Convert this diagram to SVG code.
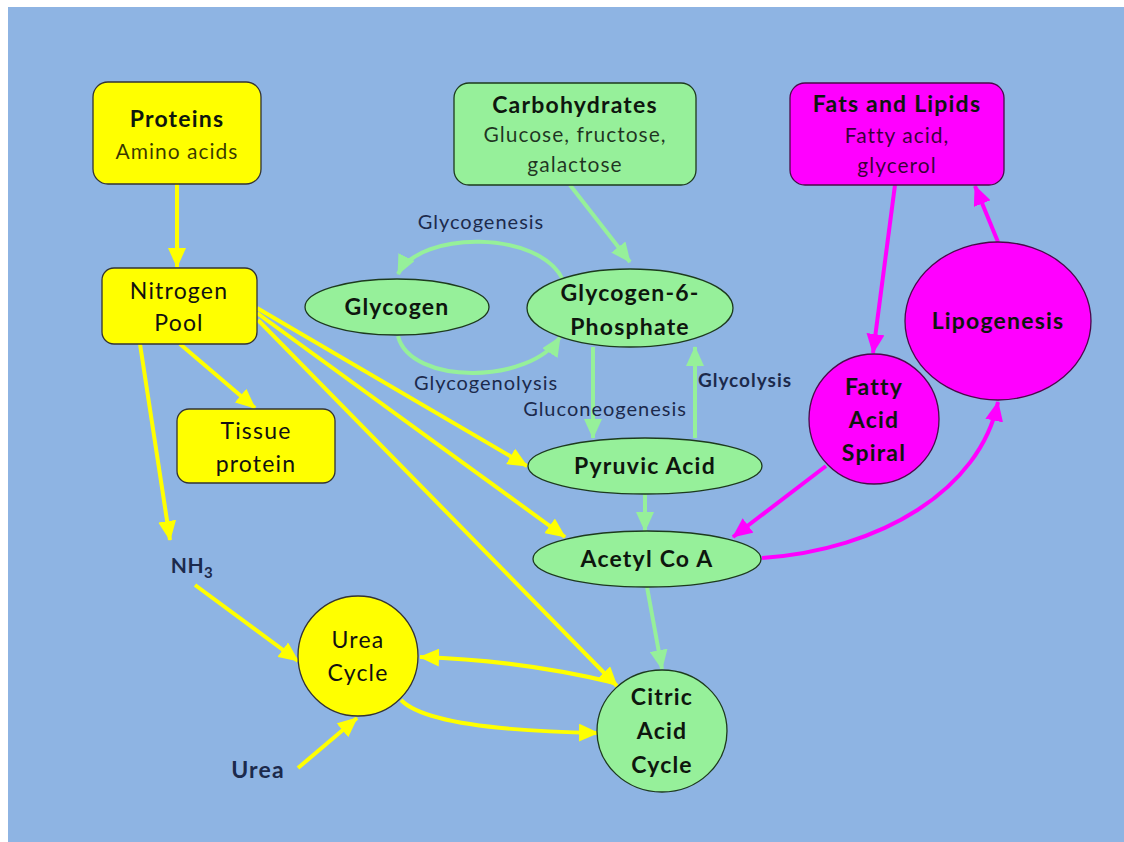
<svg xmlns="http://www.w3.org/2000/svg" width="1124" height="842" viewBox="0 0 1124 842">
<style>
  text { font-family: Lato, "Liberation Sans", sans-serif; text-anchor: middle; }
  .b { font-weight: bold; font-size: 23px; letter-spacing: 1.2px; fill: #0e160e; }
  .n { font-size: 23px; letter-spacing: 1.2px; fill: #111; }
  .s { font-size: 21px; letter-spacing: 1px; fill: #000; fill-opacity: 0.78; }
  .lbl { font-size: 20px; letter-spacing: 1px; fill: #1c2a4c; }
  .lblb { font-size: 19px; letter-spacing: 1px; font-weight: bold; fill: #1c2a4c; }
  .y { fill: #FFFF00; stroke: #333; stroke-width: 1.3; }
  .g { fill: #96F09A; stroke: #1d3a1d; stroke-width: 1.3; }
  .m { fill: #FF00FF; stroke: #4a0a4a; stroke-width: 1.3; }
  .cy { stroke: #FFFF00; stroke-width: 4; fill: none; }
  .cg { stroke: #96F09A; stroke-width: 4; fill: none; }
  .cm { stroke: #FF00FF; stroke-width: 4; fill: none; }
</style>
<defs>
  <marker id="ay" viewBox="0 0 20 18" refX="19" refY="9" markerWidth="20" markerHeight="18" markerUnits="userSpaceOnUse" orient="auto"><path d="M0,0 L20,9 L0,18 z" fill="#FFFF00"/></marker>
  <marker id="ag" viewBox="0 0 20 18" refX="19" refY="9" markerWidth="20" markerHeight="18" markerUnits="userSpaceOnUse" orient="auto"><path d="M0,0 L20,9 L0,18 z" fill="#96F09A"/></marker>
  <marker id="am" viewBox="0 0 20 18" refX="19" refY="9" markerWidth="20" markerHeight="18" markerUnits="userSpaceOnUse" orient="auto"><path d="M0,0 L20,9 L0,18 z" fill="#FF00FF"/></marker>
</defs>
<rect x="8" y="7" width="1116" height="835" fill="#8EB4E3"/>

<g id="connectors">
  <!-- yellow -->
  <line class="cy" x1="177" y1="184" x2="177" y2="267" marker-end="url(#ay)"/>
  <line class="cy" x1="180" y1="344" x2="255" y2="408" marker-end="url(#ay)"/>
  <line class="cy" x1="140" y1="344" x2="170" y2="540" marker-end="url(#ay)"/>
  <line class="cy" x1="195" y1="585" x2="298" y2="661" marker-end="url(#ay)"/>
  <line class="cy" x1="298" y1="768" x2="357" y2="718" marker-end="url(#ay)"/>
  <line class="cy" x1="257" y1="308" x2="527" y2="466" marker-end="url(#ay)"/>
  <line class="cy" x1="257" y1="313" x2="565" y2="537" marker-end="url(#ay)"/>
  <line class="cy" x1="258" y1="320" x2="617" y2="686" marker-end="url(#ay)"/>
  <path class="cy" d="M615,683 Q520,660 420,657" marker-end="url(#ay)"/>
  <path class="cy" d="M401,700 Q430,730 598,733" marker-end="url(#ay)"/>
  <!-- green -->
  <line class="cg" x1="570" y1="185" x2="630" y2="262" marker-end="url(#ag)"/>
  <path class="cg" d="M563,280 C540,230 420,230 398,274" marker-end="url(#ag)"/>
  <path class="cg" d="M398,336 C410,385 530,385 560,337" marker-end="url(#ag)"/>
  <line class="cg" x1="593" y1="347" x2="593" y2="438" marker-end="url(#ag)"/>
  <line class="cg" x1="695" y1="438" x2="695" y2="347" marker-end="url(#ag)"/>
  <line class="cg" x1="645" y1="494" x2="645" y2="531" marker-end="url(#ag)"/>
  <line class="cg" x1="647" y1="587" x2="662" y2="669" marker-end="url(#ag)"/>
  <!-- magenta -->
  <line class="cm" x1="895" y1="185" x2="873" y2="353" marker-end="url(#am)"/>
  <line class="cm" x1="998" y1="242" x2="975" y2="186" marker-end="url(#am)"/>
  <line class="cm" x1="826" y1="466" x2="733" y2="537" marker-end="url(#am)"/>
  <path class="cm" d="M762,558 C880,550 980,490 998,402" marker-end="url(#am)"/>
</g>

<g id="proteins">
  <rect class="y" x="93" y="82" width="168" height="102" rx="15"/>
  <text class="b" x="177" y="127">Proteins</text>
  <text class="s" x="177" y="159">Amino acids</text>
</g>
<g id="carbohydrates">
  <rect class="g" x="454" y="83" width="242" height="102" rx="15"/>
  <text class="b" x="575" y="113">Carbohydrates</text>
  <text class="s" x="575" y="142">Glucose, fructose,</text>
  <text class="s" x="575" y="172">galactose</text>
</g>
<g id="fats">
  <rect class="m" x="790" y="83" width="214" height="102" rx="15"/>
  <text class="b" x="897" y="112">Fats and Lipids</text>
  <text class="s" x="897" y="143">Fatty acid,</text>
  <text class="s" x="897" y="173">glycerol</text>
</g>
<g id="nitrogen-pool">
  <rect class="y" x="102" y="268" width="155" height="76" rx="12"/>
  <text class="n" x="179" y="299">Nitrogen</text>
  <text class="n" x="179" y="331">Pool</text>
</g>
<g id="tissue-protein">
  <rect class="y" x="177" y="409" width="158" height="74" rx="12"/>
  <text class="n" x="256" y="439">Tissue</text>
  <text class="n" x="256" y="472">protein</text>
</g>
<g id="glycogen">
  <ellipse class="g" cx="397" cy="307" rx="92" ry="28"/>
  <text class="b" x="397" y="315">Glycogen</text>
</g>
<g id="g6p">
  <ellipse class="g" cx="630" cy="308" rx="103" ry="39"/>
  <text class="b" x="630" y="301">Glycogen-6-</text>
  <text class="b" x="630" y="335">Phosphate</text>
</g>
<g id="pyruvic-acid">
  <ellipse class="g" cx="645" cy="466" rx="117" ry="28"/>
  <text class="b" x="645" y="474">Pyruvic Acid</text>
</g>
<g id="acetyl-coa">
  <ellipse class="g" cx="647" cy="559" rx="114" ry="28"/>
  <text class="b" x="647" y="567">Acetyl Co A</text>
</g>
<g id="citric-acid-cycle">
  <ellipse class="g" cx="662" cy="731" rx="65" ry="61"/>
  <text class="b" x="662" y="705">Citric</text>
  <text class="b" x="662" y="739">Acid</text>
  <text class="b" x="662" y="773">Cycle</text>
</g>
<g id="urea-cycle">
  <circle class="y" cx="358" cy="656" r="60"/>
  <text class="n" x="358" y="648">Urea</text>
  <text class="n" x="358" y="681">Cycle</text>
</g>
<g id="fatty-acid-spiral">
  <circle class="m" cx="874" cy="419" r="65"/>
  <text class="b" x="874" y="395">Fatty</text>
  <text class="b" x="874" y="428">Acid</text>
  <text class="b" x="874" y="461">Spiral</text>
</g>
<g id="lipogenesis">
  <ellipse class="m" cx="998" cy="321" rx="93" ry="79"/>
  <text class="b" x="998" y="329">Lipogenesis</text>
</g>
<g id="nh3">
  <text class="b" x="192" y="573" style="fill:#1c2a4c; font-size:21px; letter-spacing:0.5px">NH<tspan font-size="15" dy="5">3</tspan></text>
</g>
<g id="urea">
  <text class="b" x="258" y="778" style="fill:#1c2a4c">Urea</text>
</g>
<g id="labels">
  <text class="lbl" x="481" y="229">Glycogenesis</text>
  <text class="lbl" x="486" y="390">Glycogenolysis</text>
  <text class="lbl" x="605" y="416">Gluconeogenesis</text>
  <text class="lblb" x="745" y="387">Glycolysis</text>
</g>
</svg>
